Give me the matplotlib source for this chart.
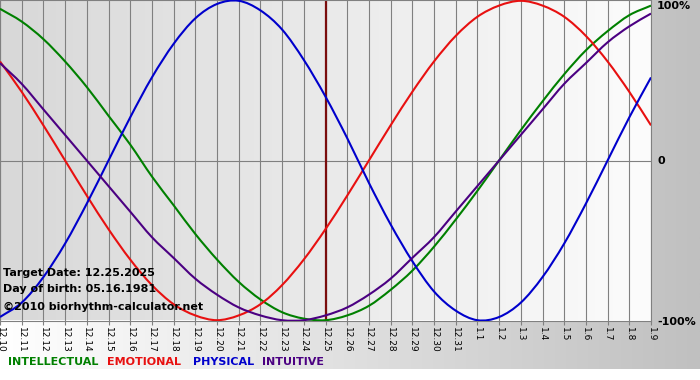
import numpy as np
import matplotlib
matplotlib.use('Agg')
import matplotlib.pyplot as plt
from matplotlib.colors import LinearSegmentedColormap
from matplotlib.path import Path
from matplotlib.patches import PathPatch

# days shown on the x axis
dates = ['12.10', '12.11', '12.12', '12.13', '12.14', '12.15', '12.16', '12.17',
         '12.18', '12.19', '12.20', '12.21', '12.22', '12.23', '12.24', '12.25',
         '12.26', '12.27', '12.28', '12.29', '12.30', '12.31',
         '1.1', '1.2', '1.3', '1.4', '1.5', '1.6', '1.7', '1.8', '1.9']

# cycle values, -1 .. 1
intellectual = [0.95, 0.87, 0.76, 0.62, 0.46, 0.28, 0.10, -0.10, -0.28, -0.46,
                -0.62, -0.76, -0.87, -0.95, -0.99, -1.00, -0.97, -0.91, -0.81, -0.69,
                -0.54, -0.37, -0.19, 0.00, 0.19, 0.37, 0.54, 0.69, 0.81, 0.91, 0.97]
emotional = [0.62, 0.43, 0.22, 0.00, -0.22, -0.43, -0.62, -0.78, -0.90, -0.97,
             -1.00, -0.97, -0.90, -0.78, -0.62, -0.43, -0.22, 0.00, 0.22, 0.43,
             0.62, 0.78, 0.90, 0.97, 1.00, 0.97, 0.90, 0.78, 0.62, 0.43, 0.22]
physical = [-0.98, -0.89, -0.73, -0.52, -0.27, 0.00, 0.27, 0.52, 0.73, 0.89,
            0.98, 1.00, 0.94, 0.82, 0.63, 0.40, 0.14, -0.14, -0.40, -0.63,
            -0.82, -0.94, -1.00, -0.98, -0.89, -0.73, -0.52, -0.27, 0.00, 0.27, 0.52]
intuitive = [0.61, 0.48, 0.32, 0.16, 0.00, -0.16, -0.32, -0.48, -0.61, -0.74,
             -0.84, -0.92, -0.97, -1.00, -1.00, -0.97, -0.92, -0.84, -0.74, -0.61,
             -0.48, -0.32, -0.16, 0.00, 0.16, 0.32, 0.48, 0.61, 0.74, 0.84, 0.92]

target_day = '12.25'
info_lines = ['Target Date: 12.25.2025', 'Day of birth: 05.16.1981',
              '\u00a92010 biorhythm-calculator.net']
legend_names = ['INTELLECTUAL', 'EMOTIONAL', 'PHYSICAL', 'INTUITIVE']

W, H = 700, 380


def fy(y):
    """pixel row -> figure fraction"""
    return 1 - y / H


def smooth_path(xs, ys):
    """bezier path through the points (catmull-rom style tangents)"""
    p = np.column_stack([xs, ys]).astype(float)
    ext = np.vstack([2 * p[0] - p[1], p, 2 * p[-1] - p[-2]])
    verts = [p[0]]
    codes = [Path.MOVETO]
    for i in range(len(p) - 1):
        a, b, c, d = ext[i], ext[i + 1], ext[i + 2], ext[i + 3]
        verts += [b + (c - a) / 6, c - (d - b) / 6, c]
        codes += [Path.CURVE4] * 3
    return Path(verts, codes)


def main():
    plt.rcParams['font.family'] = ['DejaVu Sans']
    fig = plt.figure(figsize=(W / 100, H / 100), dpi=100)
    fig.patch.set_facecolor('white')

    grad = np.linspace(0, 1, 256).reshape(1, -1)

    # grey band behind everything except the last few rows
    bg = fig.add_axes([0, fy(369), 1, 369 / H], zorder=-2)
    bg.imshow(grad, aspect='auto', extent=[0, 1, 0, 1],
              cmap=LinearSegmentedColormap.from_list('bg', ['#ffffff', '#c0c0c0']))
    bg.axis('off')

    ax = fig.add_axes([0, fy(321), 651 / W, 321 / H])
    x = np.arange(len(dates))
    ax.imshow(grad, aspect='auto', extent=[x[0], x[-1], -1, 1], zorder=0,
              cmap=LinearSegmentedColormap.from_list('pl', ['#d8d8d8', '#fcfcfc']))

    for xi in x:
        ax.axvline(xi, color='#808080', lw=0.8, zorder=1)
    ax.axhline(0, color='#808080', lw=0.8, zorder=1)

    ax.axvline(dates.index(target_day), color='#7a0d0d', lw=1.6, zorder=2)

    series = [(intellectual, '#008000'), (emotional, '#e81010'),
              (physical, '#0000cc'), (intuitive, '#4b0082')]
    for vals, col in series:
        ax.add_patch(PathPatch(smooth_path(x, vals), fill=False, edgecolor=col,
                               lw=1.5, zorder=3))

    ax.set_xlim(x[0], x[-1])
    ax.set_ylim(-1.005, 1.005)
    ax.set_xticks(x)
    ax.set_xticklabels(dates, rotation=270, fontsize=6.5, color='black')
    ax.tick_params(axis='x', length=3, color='#808080', pad=1)
    ax.set_yticks([])
    for sp in ax.spines.values():
        sp.set_color('#808080')
        sp.set_linewidth(0.8)

    # percentage labels on the right
    fig.text(657 / W, fy(1), '100%', ha='left', va='top', fontsize=8, fontweight='bold')
    fig.text(657 / W, fy(161), '0', ha='left', va='center', fontsize=8, fontweight='bold')
    fig.text(657 / W, fy(322), '-100%', ha='left', va='center', fontsize=8, fontweight='bold')

    for line, base in zip(info_lines, [276, 292, 310]):
        fig.text(3 / W, fy(base), line, ha='left', va='baseline',
                 fontsize=8, fontweight='bold', color='black')

    for name, (_, col), xp in zip(legend_names, series, [8, 107, 193, 262]):
        fig.text(xp / W, fy(365), name, ha='left', va='baseline',
                 fontsize=8, fontweight='bold', color=col)

    fig.savefig('out.png', dpi=100)


if __name__ == '__main__':
    main()
